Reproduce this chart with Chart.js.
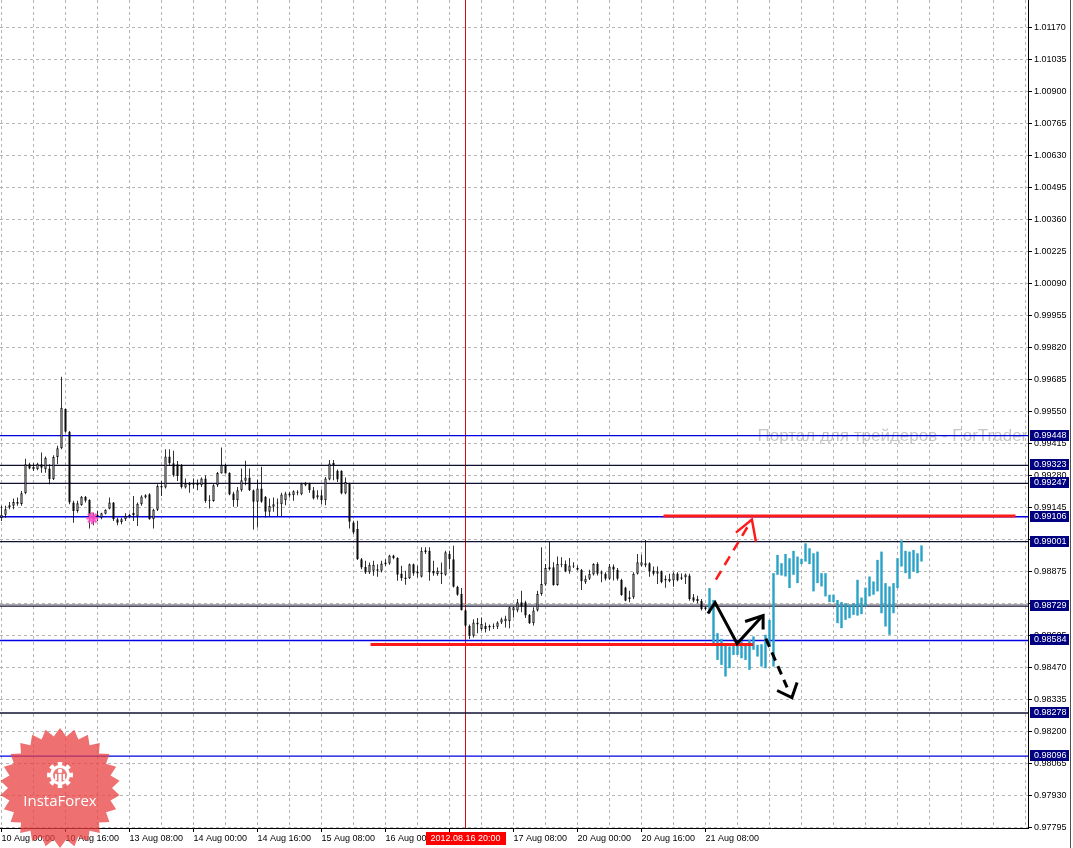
<!DOCTYPE html>
<html><head><meta charset="utf-8">
<script src="https://cdn.jsdelivr.net/npm/chart.js@4.4.0/dist/chart.umd.min.js"></script>
<style>html,body{margin:0;padding:0;background:#fff;overflow:hidden}#wrap{width:1073px;height:848px;position:relative}</style>
</head><body><div id="wrap"><canvas id="c" width="1073" height="848"></canvas></div>
<script>
// ---- DATA (H1 bars, index 0 = 10 Aug 00:00) ----
const opens = [
0.99101,0.99114,0.99145,0.99152,0.99161,0.99160,0.99205,0.99327,0.99306,0.99306,
0.99327,0.99306,0.99310,0.99264,0.99358,0.99395,0.99562,0.99465,0.99166,0.99130,
0.99154,0.99190,0.99177,0.99112,0.99107,0.99102,0.99119,0.99140,0.99166,0.99095,
0.99084,0.99095,0.99108,0.99123,0.99107,0.99159,0.99187,0.99201,0.99095,0.99135,
0.99229,0.99229,0.99360,0.99332,0.99327,0.99324,0.99229,0.99246,0.99241,0.99246,
0.99239,0.99267,0.99173,0.99172,0.99239,0.99288,0.99324,0.99291,0.99204,0.99176,
0.99218,0.99258,0.99272,0.99218,0.99169,0.99225,0.99190,0.99127,0.99148,0.99162,
0.99159,0.99176,0.99196,0.99197,0.99207,0.99201,0.99239,0.99246,0.99218,0.99187,
0.99197,0.99176,0.99263,0.99333,0.99300,0.99300,0.99204,0.99246,0.99082,0.99054,
0.98927,0.98895,0.98871,0.98878,0.98885,0.98878,0.98906,0.98909,0.98942,0.98932,
0.98867,0.98843,0.98847,0.98906,0.98875,0.98853,0.98956,0.98963,0.98878,0.98864,
0.98871,0.98861,0.98949,0.98927,0.98811,0.98780,0.98712,0.98646,0.98604,0.98660,
0.98632,0.98646,0.98639,0.98646,0.98642,0.98660,0.98665,0.98665,0.98710,0.98710,
0.98745,0.98745,0.98693,0.98657,0.98710,0.98780,0.98820,0.98886,0.98893,0.98818,
0.98907,0.98907,0.98876,0.98896,0.98890,0.98882,0.98830,0.98844,0.98862,0.98907,
0.98872,0.98865,0.98844,0.98896,0.98882,0.98839,0.98808,0.98766,0.98766,0.98865,
0.98900,0.98900,0.98910,0.98879,0.98865,0.98876,0.98844,0.98834,0.98837,0.98867,
0.98844,0.98851,0.98858,0.98766,0.98759,0.98752,0.98724];
const highs = [
0.99152,0.99152,0.99168,0.99183,0.99187,0.99215,0.99351,0.99334,0.99332,0.99334,
0.99377,0.99360,0.99327,0.99365,0.99405,0.99697,0.99562,0.99468,0.99173,0.99173,
0.99194,0.99194,0.99180,0.99123,0.99130,0.99123,0.99138,0.99187,0.99168,0.99102,
0.99102,0.99121,0.99119,0.99194,0.99166,0.99197,0.99201,0.99205,0.99140,0.99243,
0.99257,0.99391,0.99391,0.99384,0.99341,0.99328,0.99267,0.99253,0.99267,0.99263,
0.99272,0.99281,0.99197,0.99243,0.99295,0.99398,0.99328,0.99294,0.99211,0.99232,
0.99310,0.99342,0.99310,0.99221,0.99263,0.99317,0.99193,0.99183,0.99187,0.99183,
0.99207,0.99211,0.99211,0.99218,0.99218,0.99249,0.99253,0.99249,0.99232,0.99218,
0.99221,0.99274,0.99345,0.99345,0.99305,0.99302,0.99272,0.99249,0.99089,0.99089,
0.98932,0.98920,0.98913,0.98920,0.98906,0.98920,0.98927,0.98946,0.98946,0.98935,
0.98899,0.98878,0.98909,0.98909,0.98899,0.98977,0.98977,0.98977,0.98920,0.98892,
0.98913,0.98963,0.98963,0.98984,0.98815,0.98805,0.98717,0.98651,0.98674,0.98679,
0.98681,0.98660,0.98651,0.98656,0.98665,0.98681,0.98688,0.98726,0.98726,0.98759,
0.98794,0.98752,0.98696,0.98724,0.98794,0.98977,0.98907,0.99001,0.98914,0.98938,
0.98935,0.98921,0.98932,0.98914,0.98900,0.98886,0.98858,0.98882,0.98910,0.98914,
0.98879,0.98872,0.98907,0.98905,0.98890,0.98844,0.98811,0.98794,0.98872,0.98949,
0.98946,0.99008,0.98914,0.98896,0.98896,0.98879,0.98858,0.98865,0.98872,0.98872,
0.98867,0.98867,0.98865,0.98780,0.98773,0.98759,0.98727];
const lows = [
0.99088,0.99102,0.99138,0.99138,0.99152,0.99152,0.99201,0.99306,0.99299,0.99302,
0.99292,0.99292,0.99243,0.99261,0.99327,0.99391,0.99461,0.99159,0.99081,0.99123,
0.99152,0.99166,0.99056,0.99070,0.99088,0.99095,0.99116,0.99138,0.99088,0.99070,
0.99074,0.99088,0.99102,0.99088,0.99067,0.99152,0.99183,0.99093,0.99056,0.99130,
0.99194,0.99225,0.99320,0.99275,0.99257,0.99225,0.99225,0.99207,0.99225,0.99218,
0.99232,0.99165,0.99141,0.99169,0.99232,0.99288,0.99288,0.99197,0.99148,0.99148,
0.99211,0.99239,0.99215,0.99052,0.99061,0.99165,0.99103,0.99108,0.99127,0.99108,
0.99108,0.99155,0.99187,0.99173,0.99197,0.99197,0.99235,0.99207,0.99179,0.99179,
0.99159,0.99155,0.99260,0.99260,0.99253,0.99201,0.99201,0.99056,0.99033,0.98923,
0.98885,0.98864,0.98864,0.98857,0.98853,0.98871,0.98899,0.98904,0.98927,0.98836,
0.98836,0.98819,0.98843,0.98857,0.98850,0.98850,0.98949,0.98836,0.98857,0.98857,
0.98822,0.98857,0.98885,0.98808,0.98773,0.98710,0.98642,0.98590,0.98597,0.98614,
0.98625,0.98618,0.98625,0.98632,0.98632,0.98653,0.98639,0.98636,0.98681,0.98703,
0.98703,0.98679,0.98654,0.98647,0.98706,0.98773,0.98815,0.98879,0.98815,0.98815,
0.98893,0.98872,0.98865,0.98890,0.98879,0.98797,0.98822,0.98839,0.98858,0.98858,
0.98830,0.98837,0.98839,0.98837,0.98837,0.98773,0.98749,0.98745,0.98759,0.98862,
0.98896,0.98893,0.98853,0.98858,0.98822,0.98825,0.98806,0.98830,0.98811,0.98834,
0.98839,0.98822,0.98752,0.98745,0.98741,0.98710,0.98710];
const closes = [
0.99114,0.99138,0.99154,0.99168,0.99168,0.99205,0.99327,0.99310,0.99317,0.99330,
0.99313,0.99355,0.99264,0.99358,0.99395,0.99566,0.99465,0.99166,0.99130,0.99163,
0.99190,0.99173,0.99109,0.99095,0.99114,0.99121,0.99135,0.99166,0.99095,0.99081,
0.99095,0.99109,0.99114,0.99112,0.99161,0.99191,0.99197,0.99095,0.99135,0.99236,
0.99236,0.99360,0.99332,0.99281,0.99278,0.99232,0.99246,0.99239,0.99249,0.99239,
0.99267,0.99172,0.99176,0.99239,0.99291,0.99324,0.99288,0.99200,0.99176,0.99218,
0.99260,0.99272,0.99218,0.99169,0.99225,0.99169,0.99127,0.99151,0.99159,0.99165,
0.99200,0.99204,0.99204,0.99214,0.99211,0.99246,0.99249,0.99218,0.99183,0.99197,
0.99176,0.99267,0.99331,0.99324,0.99263,0.99204,0.99253,0.99085,0.99040,0.98927,
0.98892,0.98871,0.98904,0.98904,0.98878,0.98909,0.98913,0.98942,0.98932,0.98861,
0.98847,0.98850,0.98906,0.98867,0.98867,0.98963,0.98965,0.98871,0.98867,0.98878,
0.98864,0.98956,0.98927,0.98811,0.98777,0.98712,0.98646,0.98604,0.98660,0.98651,
0.98653,0.98632,0.98646,0.98642,0.98660,0.98674,0.98677,0.98724,0.98724,0.98745,
0.98726,0.98689,0.98657,0.98710,0.98780,0.98822,0.98890,0.98893,0.98818,0.98907,
0.98903,0.98876,0.98900,0.98900,0.98882,0.98834,0.98844,0.98865,0.98907,0.98865,
0.98865,0.98844,0.98896,0.98882,0.98844,0.98776,0.98752,0.98759,0.98865,0.98914,
0.98914,0.98910,0.98876,0.98865,0.98876,0.98830,0.98837,0.98844,0.98867,0.98837,
0.98851,0.98862,0.98759,0.98752,0.98749,0.98717,0.98717];

// forecast (cyan) bars, starting at bar index 177
const forecastStart = 177;
const forecastHigh = [
0.98805,0.98755,0.98615,0.98591,0.98566,0.98559,0.98573,0.98580,0.98580,0.98566,
0.98587,0.98601,0.98566,0.98568,0.98608,0.98671,0.98868,0.98945,0.98910,0.98949,
0.98931,0.98962,0.98938,0.98928,0.98994,0.98973,0.98952,0.98959,0.98868,0.98868,
0.98777,0.98777,0.98755,0.98746,0.98741,0.98734,0.98741,0.98840,0.98765,0.98807,
0.98854,0.98833,0.98924,0.98959,0.98826,0.98812,0.98826,0.98931,0.99006,0.98962,
0.98959,0.98966,0.98952,0.98985];
const forecastLow = [
0.98699,0.98573,0.98502,0.98481,0.98432,0.98467,0.98523,0.98523,0.98509,0.98502,
0.98460,0.98545,0.98516,0.98474,0.98467,0.98559,0.98474,0.98861,0.98858,0.98854,
0.98805,0.98861,0.98826,0.98906,0.98917,0.98906,0.98791,0.98826,0.98812,0.98770,
0.98746,0.98746,0.98657,0.98636,0.98671,0.98678,0.98692,0.98689,0.98695,0.98727,
0.98770,0.98777,0.98791,0.98699,0.98643,0.98608,0.98699,0.98805,0.98896,0.98868,
0.98844,0.98875,0.98868,0.98917];

// time axis labels, one every 16 bars
const timeLabels = ["10 Aug 00:00","10 Aug 16:00","13 Aug 08:00","14 Aug 00:00","14 Aug 16:00",
"15 Aug 08:00","16 Aug 00:00","16 Aug 16:00","17 Aug 08:00","20 Aug 00:00","20 Aug 16:00","21 Aug 08:00"];
// price axis tick labels
const priceTicks = [1.01170,1.01035,1.00900,1.00765,1.00630,1.00495,1.00360,1.00225,1.00090,0.99955,
0.99820,0.99685,0.99550,0.99415,0.99280,0.99145,0.99010,0.98875,0.98740,0.98605,0.98470,0.98335,
0.98200,0.98065,0.97930,0.97795];
// horizontal level lines (with highlighted price labels)
const levelPrices = [0.99448,0.99323,0.99247,0.99106,0.99001,0.98729,0.98584,0.98278,0.98096];
const greyLevelPrices = [0.98736];
// red horizontal segments
const redLineStartBar = [165.5, 92.25];
const redLineEndBar = [253.5, 187.9];
const redLinePrice = [0.99109, 0.98567];
// drawn forecast arrows: [bar, price]
const redArrowLine = [[178.6,0.98841],[187.6,0.99094]];
const redArrowHead = [[183.6,0.99039],[187.6,0.99094],[188.6,0.99001]];
const blackArrowLine = [[176.6,0.98698],[178.4,0.98744],[183.9,0.98571],[190.1,0.98685]];
const blackArrowHead = [[185.9,0.98664],[190.4,0.98689],[190.4,0.98630]];
const blackDashLine = [[191.1,0.98592],[196.4,0.98386]];
const blackDashHead = [[193.9,0.98373],[197.6,0.98343],[198.9,0.98407]];
const markerPoint = [[22.7,0.99100]];
const crosshairBar = 116;
const crosshairLabel = "2012.08.16 20:00";
const watermarkText = "Портал для трейдеров - ForTrader.ru";
const watermarkPos = [189, 0.99445];

// ---- STYLES ----
const levelLineColors = ['#0000e0','#101030','#101030','#0000e0','#101030','#101030','#0000e0','#101030','#0000e0'];
const X_MIN = -0.375, X_MAX = 256.625, Y_MIN = 0.977929, Y_MAX = 1.012860;
const AXIS_FONT = {family: '"Liberation Sans", Arial, sans-serif', size: 9};

const idx = opens.map((_, i) => i);
const pts = arr => arr.map(p => ({x: p[0], y: p[1]}));
const datasets = [];

levelPrices.forEach((p, k) => datasets.push({type:'line', data:[{x:X_MIN,y:p},{x:X_MAX,y:p}],
  borderColor: levelLineColors[k], borderWidth:1.3, pointRadius:0, order:20}));
greyLevelPrices.forEach(p => datasets.push({type:'line', data:[{x:X_MIN,y:p},{x:X_MAX,y:p}],
  borderColor:'#a0a0a0', borderWidth:1, pointRadius:0, order:21}));

datasets.push({type:'bar', data: idx.map(i => ({x:i, y:[lows[i], highs[i]]})),
  backgroundColor:'#000', borderWidth:0, grouped:false, barPercentage:0.25, maxBarThickness:1, order:6});
datasets.push({type:'bar', data: idx.map(i => ({x:i, y:[Math.min(opens[i],closes[i]), Math.max(opens[i],closes[i])]})),
  backgroundColor: idx.map(i => closes[i] > opens[i] ? '#ffffff' : '#000000'),
  borderColor:'#000', borderWidth:1, borderSkipped:false, minBarLength:1,
  grouped:false, barPercentage:0.75, maxBarThickness:3, order:5});
datasets.push({type:'bar', data: forecastHigh.map((h, j) => ({x: forecastStart + j, y:[forecastLow[j], h]})),
  backgroundColor:'#27a2c8', borderWidth:0, grouped:false, barPercentage:0.75, maxBarThickness:3, order:5});

redLinePrice.forEach((p, k) => datasets.push({type:'line', data:[{x:redLineStartBar[k],y:p},{x:redLineEndBar[k],y:p}],
  borderColor:'#ff1a1a', borderWidth:3, pointRadius:0, order:3}));

datasets.push({type:'line', data:pts(redArrowLine), borderColor:'#ff1a1a', borderWidth:2.5, borderDash:[10,7], pointRadius:0, order:1, tension:0});
datasets.push({type:'line', data:pts(redArrowHead), borderColor:'#ff1a1a', borderWidth:2.5, pointRadius:0, order:1, tension:0});
datasets.push({type:'line', data:pts(blackArrowLine), borderColor:'#000', borderWidth:3, pointRadius:0, order:1, tension:0});
datasets.push({type:'line', data:pts(blackArrowHead), borderColor:'#000', borderWidth:3, pointRadius:0, order:1, tension:0});
datasets.push({type:'line', data:pts(blackDashLine), borderColor:'#000', borderWidth:3, borderDash:[9,6], pointRadius:0, order:1, tension:0});
datasets.push({type:'line', data:pts(blackDashHead), borderColor:'#000', borderWidth:3, pointRadius:0, order:1, tension:0});
datasets.push({type:'line', data:pts(markerPoint), showLine:false, pointStyle:'star', pointRadius:6,
  borderColor:'rgba(255,80,200,0.9)', backgroundColor:'rgba(255,140,220,0.9)', pointBorderWidth:2.5, order:0});

const gridBars = [];
for (let v = 0; v <= 256; v += 8) gridBars.push(v);

const decor = {
  id: 'decor',
  beforeDatasetsDraw(chart) {
    const {ctx, chartArea: a, scales: {x, y}} = chart;
    ctx.save();
    ctx.beginPath(); ctx.rect(a.left, a.top, a.right - a.left, a.bottom - a.top); ctx.clip();
    ctx.font = '17px "Liberation Sans", Arial, sans-serif';
    ctx.fillStyle = '#c6c6c6'; ctx.textBaseline = 'middle'; ctx.textAlign = 'left';
    ctx.fillText(watermarkText, x.getPixelForValue(watermarkPos[0]), y.getPixelForValue(watermarkPos[1]));
    const cx = Math.floor(x.getPixelForValue(crosshairBar)) + 0.5;
    ctx.strokeStyle = '#d01010'; ctx.lineWidth = 1;
    ctx.beginPath(); ctx.moveTo(cx, a.top); ctx.lineTo(cx, a.bottom); ctx.stroke();
    ctx.restore();
  },
  afterDraw(chart) {
    const {ctx, chartArea: a, scales: {x, y}} = chart;
    ctx.save();
    ctx.font = '9px "Liberation Sans", Arial, sans-serif';
    ctx.textBaseline = 'middle'; ctx.textAlign = 'left';
    levelPrices.forEach(p => {
      const py = y.getPixelForValue(p);
      ctx.fillStyle = '#000080';
      ctx.fillRect(a.right + 2, Math.round(py) - 6, 39, 11);
      ctx.fillStyle = '#ffffff';
      ctx.fillText(p.toFixed(5), a.right + 6, Math.round(py) - 0.5);
    });
    // crosshair date label
    const dx = x.getPixelForValue(crosshairBar);
    ctx.fillStyle = '#ff0000';
    ctx.fillRect(Math.round(dx) - 40, a.bottom + 4, 80, 13);
    ctx.fillStyle = '#ffffff'; ctx.textAlign = 'center';
    ctx.fillText(crosshairLabel, dx, a.bottom + 10.5);
    // window edge
    ctx.strokeStyle = '#505050'; ctx.lineWidth = 1;
    ctx.beginPath(); ctx.moveTo(1070.5, 0); ctx.lineTo(1070.5, 848); ctx.stroke();
    // InstaForex badge
    const bx = 60, by = 788, R = 60, r = 52, n = 26;
    ctx.beginPath();
    for (let k = 0; k < 2 * n; k++) {
      const ang = -Math.PI / 2 + k * Math.PI / n;
      const rr = k % 2 ? r : R;
      ctx.lineTo(bx + rr * Math.cos(ang), by + rr * Math.sin(ang));
    }
    ctx.closePath();
    ctx.fillStyle = 'rgba(232,62,62,0.74)'; ctx.fill();
    // gear
    const gx = 60, gy = 775;
    ctx.beginPath();
    for (let k = 0; k < 16; k++) {
      const a0 = k * Math.PI / 8 - Math.PI / 16, a1 = a0 + Math.PI / 8;
      const rr = k % 2 ? 10 : 13;
      ctx.arc(gx, gy, rr, a0, a1);
    }
    ctx.closePath(); ctx.fillStyle = '#ffffff'; ctx.fill();
    ctx.beginPath(); ctx.arc(gx, gy, 7, 0, Math.PI * 2); ctx.fillStyle = '#ee7b7b'; ctx.fill();
    ctx.fillStyle = '#ffffff';
    ctx.beginPath(); ctx.arc(gx, gy - 4, 2.2, 0, Math.PI * 2); ctx.fill();
    ctx.fillRect(gx - 1.5, gy - 1, 3, 11);
    ctx.fillRect(gx - 5, gy - 1, 2, 6); ctx.fillRect(gx + 3, gy - 1, 2, 6);
    ctx.font = '15px "Open Sans", "Liberation Sans", sans-serif';
    ctx.textAlign = 'center'; ctx.textBaseline = 'alphabetic';
    ctx.fillText('InstaForex', bx, 806);
    ctx.restore();
  }
};

new Chart(document.getElementById('c'), {
  type: 'bar',
  data: {datasets},
  plugins: [decor],
  options: {
    responsive: false, animation: false, devicePixelRatio: 1,
    layout: {padding: 0, autoPadding: false},
    plugins: {legend: {display: false}, tooltip: {enabled: false}},
    scales: {
      x: {
        type: 'linear', position: 'bottom', min: X_MIN, max: X_MAX, offset: false,
        afterBuildTicks: s => { s.ticks = gridBars.map(v => ({value: v})); },
        afterFit: s => { s.height = 20; s.paddingLeft = 0; s.paddingRight = 0; },
        grid: {color: '#b6b6b6', lineWidth: 1, offset: false, drawTicks: true, tickLength: 4,
          tickColor: c => (c.tick && c.tick.value % 16 === 0 && c.tick.value / 16 < timeLabels.length) ? '#000' : 'rgba(0,0,0,0)'},
        border: {display: true, color: '#000', width: 1, dash: [3, 3]},
        ticks: {autoSkip: false, maxRotation: 0, minRotation: 0, align: 'start', padding: 1, color: '#000', font: AXIS_FONT,
          callback: v => (v % 16 === 0 && v / 16 < timeLabels.length) ? timeLabels[v / 16] : ''}
      },
      y: {
        type: 'linear', position: 'right', min: Y_MIN, max: Y_MAX,
        afterBuildTicks: s => { s.ticks = priceTicks.map(v => ({value: v})); },
        afterFit: s => { s.width = 45; s.paddingTop = 0; s.paddingBottom = 0; },
        grid: {color: '#b6b6b6', lineWidth: 1, drawTicks: true, tickLength: 4, tickColor: '#000'},
        border: {display: true, color: '#000', width: 1, dash: [3, 3]},
        ticks: {autoSkip: false, padding: 2, color: '#000', font: AXIS_FONT, callback: v => Number(v).toFixed(5)}
      }
    }
  }
});
</script>
</body></html>
